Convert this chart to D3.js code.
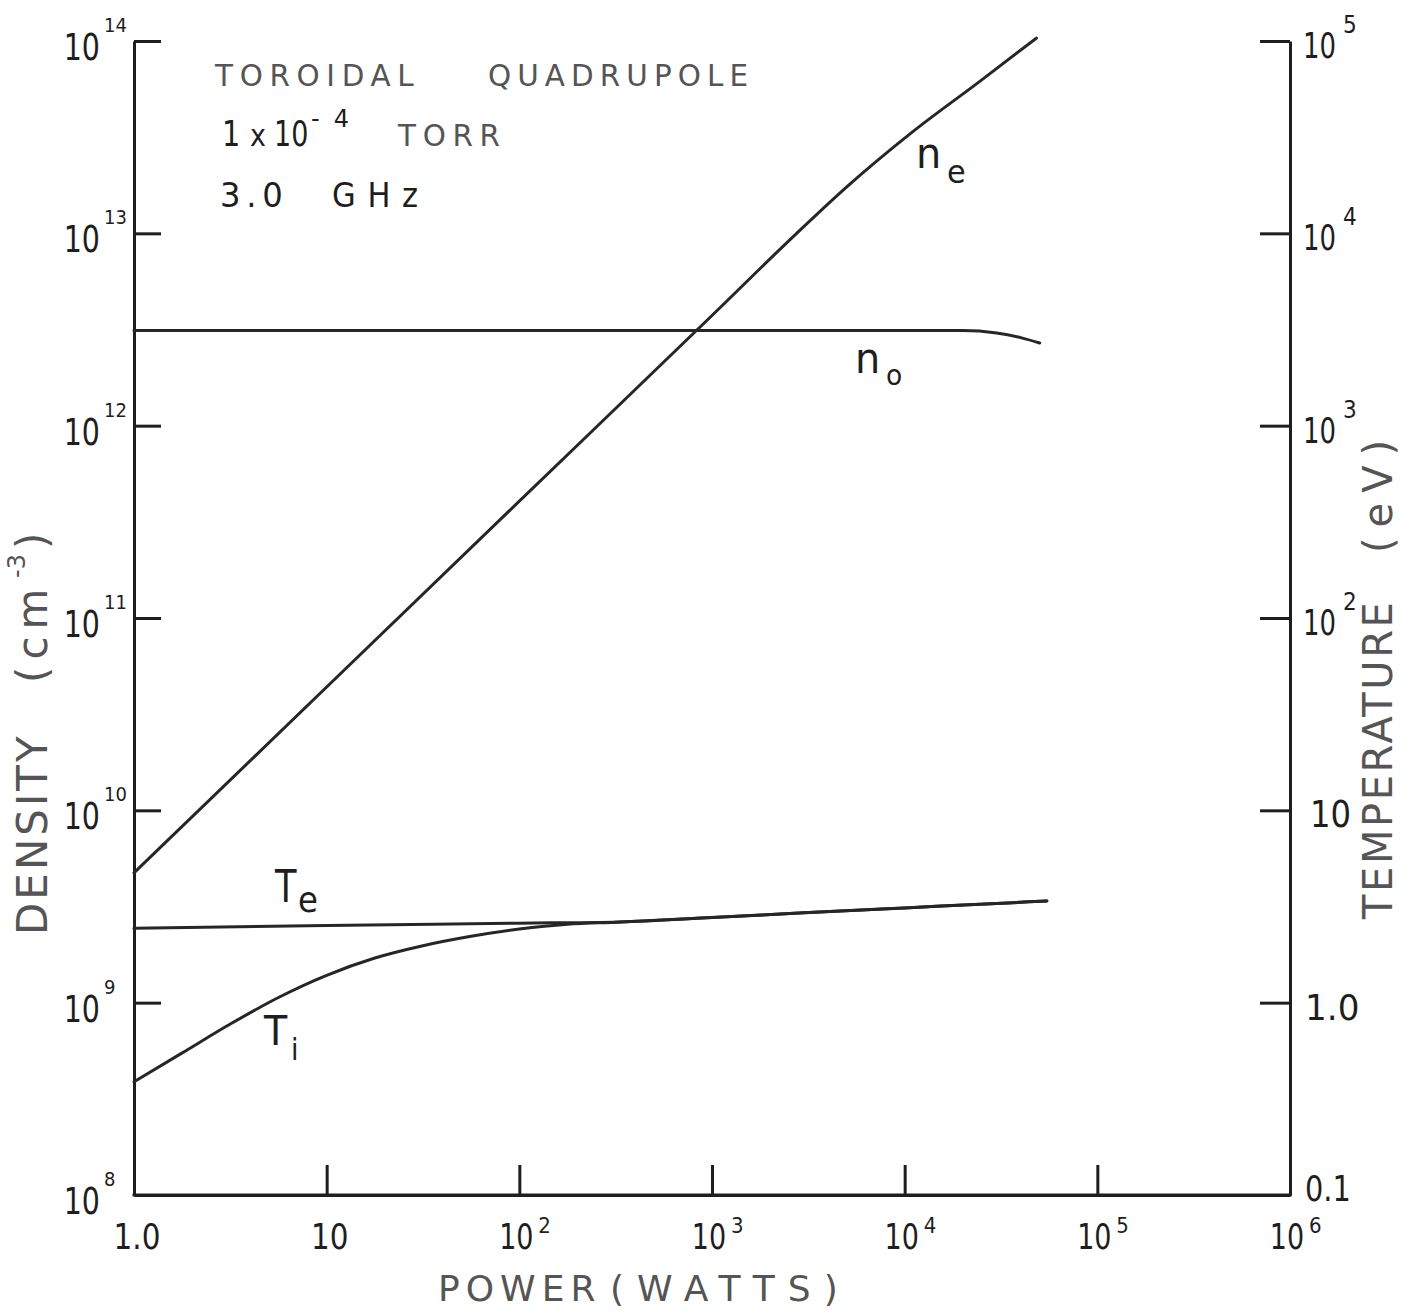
<!DOCTYPE html>
<html>
<head>
<meta charset="utf-8">
<script src="https://cdn.jsdelivr.net/npm/d3@7"></script>
<style>
  html, body { margin: 0; padding: 0; background: #fff; }
  svg { display: block; }
  text { font-family: "DejaVu Sans", "Liberation Sans", sans-serif; }
</style>
</head>
<body>
<svg id="chart" width="1414" height="1311"></svg>
<script>
// ---------------- DATA ----------------
// Power (W) sample points and curve values
const nePower = [1, 10, 100, 1000, 2750, 4990, 1.107e4, 2.455e4, 4.83e4];
const neValues = [4.73e9, 4.38e10, 4.05e11, 3.74e12, 1.0e13, 1.74e13, 3.39e13, 6.17e13, 1.035e14];

const noPower = [1, 10, 100, 1000, 1e4, 2e4, 3e4, 4e4, 5.02e4];
const noValues = [3.12e12, 3.12e12, 3.12e12, 3.12e12, 3.12e12, 3.12e12, 3.03e12, 2.87e12, 2.69e12];

const tePower = [1, 10, 100, 333, 1000, 3000, 1e4, 3e4, 5.47e4];
const teValues = [2.44, 2.52, 2.59, 2.63, 2.77, 2.93, 3.11, 3.28, 3.38];

const tiPower = [1, 1.78, 3.16, 5.62, 10, 17.8, 31.6, 56.2, 100, 178, 316, 1000, 3000, 1e4, 3e4, 5.47e4];
const tiValues = [0.388, 0.548, 0.774, 1.064, 1.387, 1.706, 1.977, 2.213, 2.415, 2.559, 2.62, 2.77, 2.93, 3.11, 3.28, 3.38];

// Axis ticks and labels
const xTicks = [1, 10, 100, 1e3, 1e4, 1e5, 1e6];
const xTickBase = ["1.0", "10", "10", "10", "10", "10", "10"];
const xTickExp = ["", "", "2", "3", "4", "5", "6"];

const leftTicks = [1e8, 1e9, 1e10, 1e11, 1e12, 1e13, 1e14];
const leftTickExp = ["8", "9", "10", "11", "12", "13", "14"];

const rightTicks = [0.1, 1, 10, 100, 1e3, 1e4, 1e5];
const rightTickBase = ["0.1", "1.0", "10", "10", "10", "10", "10"];
const rightTickExp = ["", "", "", "2", "3", "4", "5"];

const titleLines = ["TOROIDAL", "QUADRUPOLE"];

// ---------------- CHART ----------------
const svg = d3.select("#chart");
const L = 134, R = 1290, T = 41, B = 1195;
const ink = "#1e1e1e";
const grayInk = "#555";

const x = d3.scaleLog().domain([1, 1e6]).range([L, R]);
const yL = d3.scaleLog().domain([1e8, 1e14]).range([B, T]);
const yR = d3.scaleLog().domain([0.1, 1e5]).range([B, T]);

// text helper: horizontal squeeze through a transform
function txt(parent, px, py, s, size, opt = {}) {
  const sx = opt.sx || 1;
  return parent.append("text")
    .attr("transform", `translate(${px},${py}) scale(${sx},1)`)
    .attr("text-anchor", opt.anchor || "start")
    .attr("font-size", size)
    .attr("fill", opt.fill || ink)
    .attr("letter-spacing", opt.ls || 0)
    .text(s);
}

function styleAxis(g) {
  g.select(".domain").attr("stroke", ink).attr("stroke-width", 3);
  g.selectAll(".tick line").attr("stroke", ink).attr("stroke-width", 3);
  g.selectAll(".tick text").remove();
}

// Left axis (ticks point inward)
svg.append("g").attr("transform", `translate(${L},0)`)
  .call(d3.axisRight(yL).tickValues(leftTicks.slice(1)).tickSize(27).tickSizeOuter(0).tickFormat(""))
  .call(styleAxis);

// Right axis
svg.append("g").attr("transform", `translate(${R},0)`)
  .call(d3.axisLeft(yR).tickValues(rightTicks.slice(1)).tickSize(30).tickSizeOuter(0).tickFormat(""))
  .call(styleAxis);

// Bottom axis
svg.append("g").attr("transform", `translate(0,${B})`)
  .call(d3.axisTop(x).tickValues(xTicks.slice(1, -1)).tickSize(30).tickSizeOuter(0).tickFormat(""))
  .call(styleAxis);
svg.append("line").attr("x1", x(1) - 1.5).attr("x2", x(1e6) + 1.5)
  .attr("y1", B).attr("y2", B).attr("stroke", ink).attr("stroke-width", 3);

// ---------------- Tick labels ----------------
leftTicks.forEach((v, i) => {
  const yy = yL(v);
  txt(svg, 100, yy + 19, "10", 38, { anchor: "end", sx: 0.75 });
  txt(svg, 104, yy - 9, leftTickExp[i], 20, { sx: 0.9 });
});

rightTicks.forEach((v, i) => {
  const yy = yR(v);
  const base = rightTickBase[i];
  if (rightTickExp[i] !== "") {
    txt(svg, 1303, yy + 17, base, 36, { sx: 0.72 });
    txt(svg, 1343, yy - 8, rightTickExp[i], 24, { sx: 0.9 });
  } else if (base === "10") {
    txt(svg, 1310, yy + 17, base, 38, { sx: 0.85 });
  } else {
    txt(svg, 1305, yy + (i === 0 ? 6 : 17), base, 36, { sx: i === 0 ? 0.8 : 0.95 });
  }
});

xTicks.forEach((v, i) => {
  const xx = x(v);
  if (xTickExp[i] !== "") {
    txt(svg, xx - 3, 1249, xTickBase[i], 36, { anchor: "middle", sx: 0.75 });
    txt(svg, xx + 19, 1233, xTickExp[i], 22, { sx: 0.9 });
  } else {
    txt(svg, xx + 3, 1249, xTickBase[i], 36, { anchor: "middle", sx: 0.82 });
  }
});

// ---------------- Axis titles ----------------
txt(svg, 438, 1301, "POWER", 36, { fill: grayInk, ls: 6 });
txt(svg, 610, 1301, "(WATTS)", 36, { fill: grayInk, ls: 13 });

// left: DENSITY (cm^-3)
const dens = svg.append("g").attr("transform", "translate(47,935) rotate(-90)");
txt(dens, 0, 0, "DENSITY", 42, { fill: grayInk, ls: 3 });
txt(dens, 252, 0, "(cm", 42, { fill: grayInk, ls: 7 });
txt(dens, 357, -22, "-3", 24, { fill: grayInk });
txt(dens, 386, 0, ")", 42, { fill: grayInk });

// right: TEMPERATURE (eV)
const temp = svg.append("g").attr("transform", "translate(1392,919) rotate(-90)");
txt(temp, 0, 0, "TEMPERATURE", 40, { fill: grayInk, ls: 2.6 });
txt(temp, 366, 0, "(eV)", 40, { fill: grayInk, ls: 10 });

// ---------------- Annotation block ----------------
txt(svg, 215, 86, titleLines[0], 31, { fill: grayInk, ls: 7, sx: 0.95 });
txt(svg, 488, 86, titleLines[1], 31, { fill: grayInk, ls: 6.4, sx: 0.95 });

txt(svg, 222, 146, "1", 36, { sx: 0.8 });
txt(svg, 250, 146, "x", 30, { sx: 0.9 });
txt(svg, 274, 146, "10", 36, { sx: 0.75 });
txt(svg, 311, 127, "-4", 24, { ls: 14 });
txt(svg, 398, 146, "TORR", 31, { fill: grayInk, ls: 7, sx: 0.95 });

txt(svg, 220, 207, "3.0", 34, { ls: 6, sx: 0.95 });
txt(svg, 332, 207, "GHz", 34, { ls: 13, sx: 0.9 });

// ---------------- Curves ----------------
const lineL = d3.line().x(d => x(d[0])).y(d => yL(d[1])).curve(d3.curveMonotoneX);
const lineR = d3.line().x(d => x(d[0])).y(d => yR(d[1])).curve(d3.curveMonotoneX);

function drawCurve(gen, px, vals) {
  svg.append("path").datum(px.map((p, i) => [p, vals[i]]))
    .attr("d", gen).attr("fill", "none").attr("stroke", "#262626")
    .attr("stroke-width", 3).attr("stroke-linecap", "round").attr("stroke-linejoin", "round");
}
drawCurve(lineL, nePower, neValues);
drawCurve(lineL, noPower, noValues);
drawCurve(lineR, tePower, teValues);
drawCurve(lineR, tiPower, tiValues);

// ---------------- Curve labels ----------------
txt(svg, 916, 168, "n", 42, { sx: 0.95 });
txt(svg, 947, 183, "e", 32, { sx: 0.95 });
txt(svg, 855, 373, "n", 42, { sx: 0.95 });
txt(svg, 886, 385, "o", 28, { sx: 0.95 });
txt(svg, 275, 902, "T", 44, { sx: 0.8 });
txt(svg, 298, 912, "e", 36, { sx: 0.9 });
txt(svg, 264, 1045, "T", 40, { sx: 0.95 });
txt(svg, 291, 1060, "i", 30, { sx: 0.9 });
</script>
</body>
</html>
